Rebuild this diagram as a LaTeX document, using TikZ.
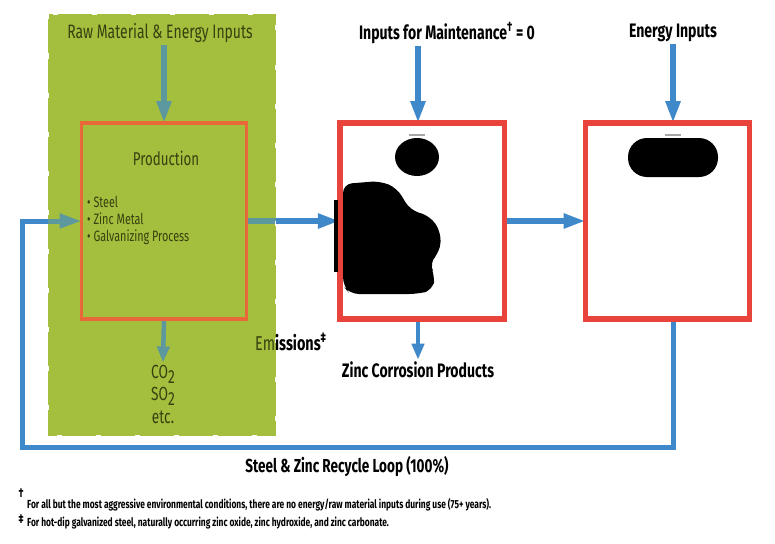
\documentclass[tikz,border=0pt]{standalone}
\usepackage{fontspec}
\setmainfont{Fira Sans}[FakeStretch=0.72]
\usetikzlibrary{arrows.meta,calc}
\definecolor{grn}{HTML}{A4BE3E}
\definecolor{olive}{HTML}{36410F}
\definecolor{orng}{HTML}{E8683A}
\definecolor{redb}{HTML}{E8443C}
\definecolor{blu}{HTML}{3F88C9}
\pgfdeclarelayer{bg}
\pgfdeclarelayer{arr}
\pgfdeclarelayer{tint}
\pgfsetlayers{bg,arr,tint,main}
\begin{document}
\begin{tikzpicture}[x=1pt,y=-1pt,
  boxnode/.style={draw, fill=none, inner sep=0pt, outer sep=0pt, minimum height=196, minimum width=165},
  gtext/.style={text=olive, inner sep=2pt, font=\fontsize{19.4}{22}\selectfont},
  btext/.style={text=black, inner sep=2pt, font=\bfseries\fontsize{19.5}{22}\selectfont},
  fntext/.style={text=black, inner sep=0pt, anchor=west, font=\bfseries\fontsize{11.7}{13}\selectfont},
  flowarr/.style={draw=blu, line width=5.5, -{Triangle[length=22,width=14]}},
  looparr/.style={draw=blu, line width=5, line join=miter, -{Triangle[length=22,width=14]}},
  blob/.style={fill=black, draw=none}]
\begin{pgfonlayer}{bg}
  \fill[white] (0,0) rectangle (775,543);
  \fill[grn] (48,14) rectangle (276,436);
\end{pgfonlayer}
\draw[white, line width=1.5, dash pattern=on 5 off 34] (48.5,14.5) rectangle (275.5,435.5);
% boxes
\node[boxnode, draw=orng, line width=3.5] (prod) at (164,221) {};
\node[boxnode, draw=redb, line width=5.5, minimum width=164.5] (use) at (422,221) {};
\node[boxnode, draw=redb, line width=5.5, minimum width=164] (eol) at (667.5,221) {};
% texts
\node[gtext] (raw) at (160,33) {Raw Material \& Energy Inputs};
\node[gtext, font=\fontsize{18.5}{21}\selectfont] (prodlbl) at (166,158) {Production};
\node[gtext, font=\fontsize{15}{17}\selectfont, align=left, anchor=west] (bul) at (85,220) {• Steel\\• Zinc Metal\\• Galvanizing Process};
\node[gtext, align=center, font=\fontsize{19}{22.5}\selectfont] (emis) at (163,394) {CO\raisebox{-5pt}{2}\\SO\raisebox{-5pt}{2}\\etc.};
\node[btext, anchor=west, font=\bfseries\fontsize{20}{22}\selectfont] (emlbl) at (253,342) {\textcolor{olive}{\mdseries Em}issions\textsuperscript{‡}};
\node[btext] (maint) at (447,33) {Inputs for Maintenance\textsuperscript{†} = 0};
\node[btext] (energy) at (673,33) {Energy Inputs};
\node[btext] (zcp) at (418,370) {Zinc Corrosion Products};
\node[btext, font=\bfseries\fontsize{18.8}{22}\selectfont] (looplbl) at (347,467) {Steel \& Zinc Recycle Loop (100\%)};
\node[text=black, inner sep=0pt, font=\bfseries\fontsize{13}{13}\selectfont] (dg) at (21,493) {†};
\node[fntext] (fn1) at (27,505) {For all but the most aggressive environmental conditions, there are no energy/raw material inputs during use (75+ years).};
\node[text=black, inner sep=0pt, font=\bfseries\fontsize{13}{13}\selectfont] (ddg) at (21,519) {‡};
\node[fntext] (fn2) at (27,523) {For hot-dip galvanized steel, naturally occurring zinc oxide, zinc hydroxide, and zinc carbonate.};
% helper coordinates
\coordinate (m1) at ([xshift=-4pt]use.north);
\coordinate (m2) at ([xshift=-4pt]use.south);
\coordinate (e1) at ([xshift=5.5pt]eol.north);
\coordinate (e2) at ([xshift=5.5pt]eol.south);
\coordinate (lc) at (22,447);
% arrows
\begin{pgfonlayer}{arr}
  \draw[flowarr] (raw.south -| prod.north) -- (prod.north);
  \draw[flowarr] (maint.south -| m1) -- (m1);
  \draw[flowarr] (energy.south -| e1) -- (e1);
  \draw[flowarr] (prod.east) -- (use.west);
  \draw[flowarr] (use.east) -- (eol.west);
  \draw[flowarr, line width=4.5, -{Triangle[length=16,width=12]}] (prod.south) -- (emis.north);
  \draw[flowarr, line width=4.5, -{Triangle[length=16,width=12]}] (m2) -- (zcp.north -| m2);
  \draw[looparr] (e2) |- (lc) |- (prod.west);
\end{pgfonlayer}
\begin{pgfonlayer}{tint}
  \fill[grn, opacity=0.3] (48,14) rectangle (276,436);
\end{pgfonlayer}
% dark blots
\fill[blob] (417,157) ellipse [x radius=22, y radius=19];
\fill[blob, rounded corners=9] (343,184) -- (380,181) -- (397,188) -- (410,210) -- (430,216) -- (441,232) -- (440,252) -- (429,263) -- (435,275) -- (433,290) -- (418,294) -- (350,294) -- (343,286) -- cycle;
\fill[blob] (334,200) rectangle (338,272);
\fill[blob, rounded corners=19] (628,138) rectangle (718,177);
\draw[gray!70, line width=2] (409,135) -- (425,135);
\draw[gray!70, line width=2] (665,135) -- (681,135);
\end{tikzpicture}
\end{document}
